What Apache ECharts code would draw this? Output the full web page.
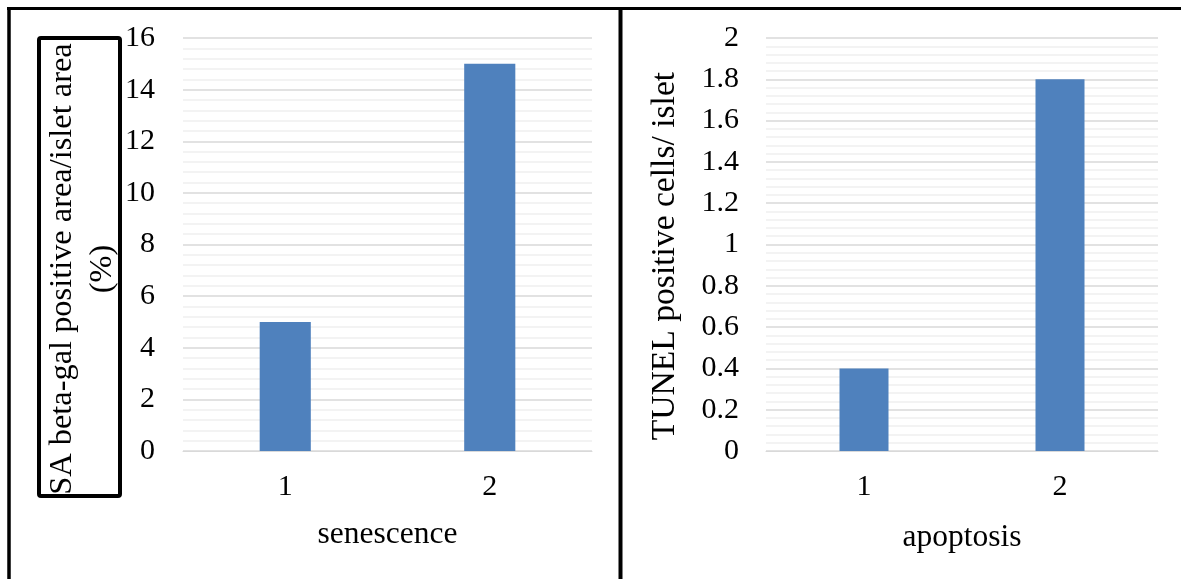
<!DOCTYPE html>
<html><head><meta charset="utf-8">
<script src="https://cdn.jsdelivr.net/npm/echarts@6/dist/echarts.min.js"></script>
<style>html,body{margin:0;padding:0;background:#fff}#c{width:1181px;height:579px}</style>
</head><body><div id="c"></div>
<script>
const categories = ['1', '2'];
const senescenceValues = [5, 15];
const apoptosisValues = [0.4, 1.8];
const leftTicks = {min: 0, max: 16, interval: 2};
const rightTicks = {min: 0, max: 2, interval: 0.2};
const leftYTitle = 'SA beta-gal positive area/islet area\n(%)';
const rightYTitle = 'TUNEL positive cells/ islet';
const leftXTitle = 'senescence';
const rightXTitle = 'apoptosis';

const FF = '"Liberation Serif", "Times New Roman", serif';
const FS = 30;
const chart = echarts.init(document.getElementById('c'), null, {renderer: 'canvas'});

function xAxis(gi, name, gap) {
  return {
    type: 'category', gridIndex: gi, data: categories,
    axisLine: {show: true, lineStyle: {color: '#d9d9d9', width: 1}},
    axisTick: {show: false},
    axisLabel: {color: '#000', fontFamily: FF, fontSize: FS, margin: 21},
    name: name, nameLocation: 'middle', nameGap: gap,
    nameTextStyle: {color: '#000', fontFamily: FF, fontSize: 31.5}
  };
}
function yAxis(gi, t, fmt, margin) {
  return {
    type: 'value', gridIndex: gi, min: t.min, max: t.max, interval: t.interval,
    axisLine: {show: false}, axisTick: {show: false},
    axisLabel: {color: '#000', fontFamily: FF, fontSize: FS, margin: margin, formatter: fmt},
    splitLine: {show: true, lineStyle: {color: '#d9d9d9', width: 1.5}},
    minorTick: {show: false, splitNumber: 5},
    minorSplitLine: {show: true, lineStyle: {color: '#f0f0f0', width: 1.5}}
  };
}

chart.setOption({
  animation: false,
  backgroundColor: '#fff',
  grid: [
    {left: 183, right: 589, top: 38, bottom: 128},
    {left: 766, right: 23, top: 38, bottom: 128}
  ],
  xAxis: [xAxis(0, leftXTitle, 68), xAxis(1, rightXTitle, 71)],
  yAxis: [
    yAxis(0, leftTicks, v => String(v), 28),
    yAxis(1, rightTicks, v => String(Math.round(v * 10) / 10), 27)
  ],
  series: [
    {type: 'bar', xAxisIndex: 0, yAxisIndex: 0, data: senescenceValues, barWidth: '25%', itemStyle: {color: '#4f81bd'}},
    {type: 'bar', xAxisIndex: 1, yAxisIndex: 1, data: apoptosisValues, barWidth: '25%', itemStyle: {color: '#4f81bd'}}
  ],
  graphic: [
    {type: 'line', shape: {x1: 7, y1: 8.5, x2: 1181, y2: 8.5}, style: {stroke: '#000', lineWidth: 3}},
    {type: 'line', shape: {x1: 9, y1: 7, x2: 9, y2: 579}, style: {stroke: '#000', lineWidth: 3.5}},
    {type: 'line', shape: {x1: 620.5, y1: 7, x2: 620.5, y2: 579}, style: {stroke: '#000', lineWidth: 4}},
    {type: 'rect', shape: {x: 39, y: 38, width: 81, height: 458, r: 2}, style: {fill: 'none', stroke: '#000', lineWidth: 4}},
    {type: 'text', x: 82, y: 269, rotation: Math.PI / 2,
      style: {text: leftYTitle, fontFamily: FF, fontSize: 32.4, fill: '#000', align: 'center', verticalAlign: 'middle', lineHeight: 40}},
    {type: 'text', x: 665, y: 256, rotation: Math.PI / 2,
      style: {text: rightYTitle, fontFamily: FF, fontSize: 33.6, fill: '#000', align: 'center', verticalAlign: 'middle'}}
  ]
});
</script></body></html>
